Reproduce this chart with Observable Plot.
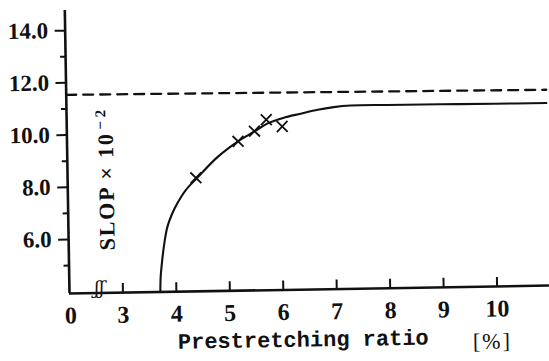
<!DOCTYPE html>
<html>
<head>
<meta charset="utf-8">
<script src="https://cdn.jsdelivr.net/npm/d3@7"></script>
<script src="https://cdn.jsdelivr.net/npm/@observablehq/plot@0.6"></script>
<style>
  html, body { margin: 0; padding: 0; background: white; overflow: hidden; }
  #chart { width: 549px; height: 361px; }
</style>
</head>
<body>
<div id="chart"></div>
<script>
// ---- data ----
const curveX = [3.70, 3.71, 3.744, 3.79, 3.85, 3.94, 4.04, 4.20, 4.425, 4.81, 5.20, 5.51, 5.75, 6.05, 6.38, 6.70, 7.00, 7.32, 8.0, 9.0, 10.0, 10.98];
const curveY = [3.93, 4.50, 5.14, 5.80, 6.41, 6.90, 7.30, 7.80, 8.28, 9.06, 9.65, 10.02, 10.31, 10.52, 10.67, 10.81, 10.90, 10.95, 10.95, 10.94, 10.93, 10.92];
const pointX = [4.40, 5.20, 5.51, 5.735, 6.03];
const pointY = [8.28, 9.65, 10.03, 10.46, 10.19];
const asymptoteX = [2.0, 10.98];
const asymptoteY = [11.54, 11.43];
const xDomain = [2.0, 10.98];
const yDomain = [3.93, 14.77];
const xTickValues = [3, 4, 5, 6, 7, 8, 9, 10];
const yMajorTicks = [6, 8, 10, 12, 14];
const yMinorTicks = [5, 7, 9, 11, 13];
const originLabel = ["0"];
const breakMark = ["ʃʃ"];
const xTitle = ["Prestretching ratio"];
const xUnit = ["[%]"];
const yTitleMain = "SLOP × 10";
const yTitleSup = "−2";

const curve = curveX.map((x, i) => ({x, y: curveY[i]}));
const points = pointX.map((x, i) => ({x, y: pointY[i]}));
const asymptote = asymptoteX.map((x, i) => ({x, y: asymptoteY[i]}));

const ink = "#111";
const serif = "'Liberation Serif', 'DejaVu Serif', serif";
const mono = "'Liberation Mono', 'DejaVu Sans Mono', monospace";

const chart = Plot.plot({
  width: 549,
  height: 361,
  marginLeft: 69,
  marginRight: 0,
  marginTop: 10,
  marginBottom: 68,
  x: {domain: xDomain},
  y: {domain: yDomain},
  marks: [
    Plot.ruleX([xDomain[0]], {stroke: ink, strokeWidth: 2.6}),
    Plot.ruleY([yDomain[0]], {stroke: ink, strokeWidth: 2.6}),
    Plot.axisY({ticks: yMajorTicks, tickSize: 10, tickPadding: 7, strokeWidth: 2,
      tickFormat: d => d.toFixed(1), fontSize: 23, fill: ink, stroke: ink, label: null}),
    Plot.axisY({ticks: yMinorTicks, tickSize: 5, strokeWidth: 2, tickFormat: () => "", stroke: ink, label: null}),
    Plot.axisX({anchor: "top", frameAnchor: "bottom", ticks: xTickValues, tickSize: 10, strokeWidth: 2,
      tickFormat: () => "", stroke: ink, label: null}),
    Plot.axisX({ticks: xTickValues, tickSize: 0, tickPadding: 13, fontSize: 24, fill: ink, label: null}),
    Plot.line(asymptote, {x: "x", y: "y", stroke: ink, strokeWidth: 2.3, strokeDasharray: "10,7"}),
    Plot.line(curve, {x: "x", y: "y", stroke: ink, strokeWidth: 2.1, curve: "catmull-rom"}),
    Plot.dot(points, {x: "x", y: "y", symbol: "times", r: 5, stroke: ink, strokeWidth: 1.8}),
    Plot.text(originLabel, {text: d => d, frameAnchor: "bottom-left", dx: -5, dy: 30, fontSize: 24, fill: ink}),
    Plot.text(breakMark, {text: d => d, frameAnchor: "bottom-left", dx: 25, dy: 1, fontSize: 18, fill: ink}),
    Plot.text(xTitle, {text: d => d, frameAnchor: "bottom", dx: -7, dy: 57, fontSize: 22, fontWeight: "bold", fill: ink}),
    Plot.text(xUnit, {text: d => d, frameAnchor: "bottom", dx: 182, dy: 62, fontSize: 22, fill: ink}),
    Plot.text([yTitleMain], {text: d => d, frameAnchor: "left", textAnchor: "start", rotate: -90, dx: 39, dy: 99, fontSize: 22, fill: ink})
  ]
});

// scanned original is rotated slightly counter-clockwise
chart.style.overflow = "visible";
chart.style.background = "white";
chart.style.transformOrigin = "69px 293px";
chart.style.transform = "rotate(-0.95deg)";

// fonts, letter spacing and superscript
d3.select(chart).selectAll("text").each(function() {
  const sel = d3.select(this);
  const t = this.textContent;
  sel.style("font-family", serif).style("font-weight", "bold");
  if (t === xTitle[0]) sel.style("font-family", mono).style("letter-spacing", "0px");
  if (t === xUnit[0]) sel.style("font-weight", "normal").style("letter-spacing", "2px");
  if (t === breakMark[0]) sel.style("font-family", "'DejaVu Serif', serif").style("font-weight", "normal").style("font-style", "italic").style("letter-spacing", "0px");
  if (t === yTitleMain) {
    sel.style("letter-spacing", "1.8px");
    sel.append("tspan").attr("dx", 3).attr("dy", "-0.5em")
      .attr("font-size", 15).style("letter-spacing", "3.5px").text(yTitleSup);
  }
});

document.getElementById("chart").appendChild(chart);
</script>
</body>
</html>
